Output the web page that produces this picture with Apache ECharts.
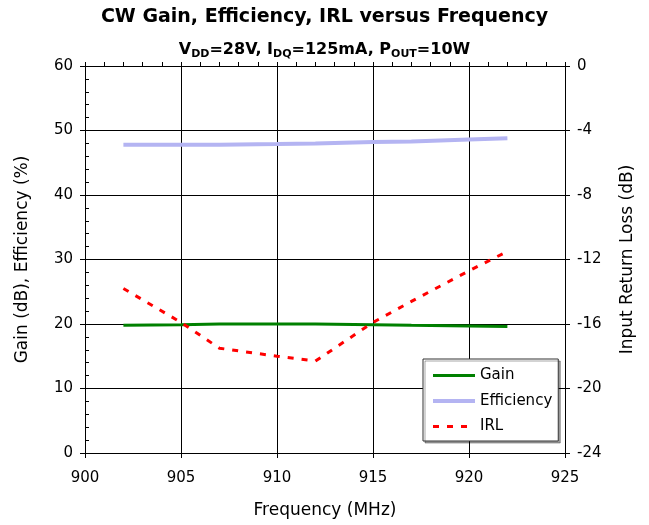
<!DOCTYPE html>
<html lang="en">

<head>
    <meta charset="UTF-8">
    <title>CW Gain, Efficiency, IRL versus Frequency</title>
    <script src="https://cdnjs.cloudflare.com/ajax/libs/echarts/6.0.0/echarts.min.js"></script>
    <style>
        body { margin: 0; background: #fff; }
    </style>
</head>

<body>
    <div id="main" style="width: 649px;height:525px;"></div>

    <script type="text/javascript">
        // data
        const freq = [902, 905, 907, 910, 912, 915, 917, 920, 922];
        const gain = [19.8, 19.9, 20.0, 20.0, 20.0, 19.9, 19.8, 19.7, 19.6];
        const efficiency = [47.8, 47.8, 47.8, 47.9, 48.0, 48.2, 48.3, 48.6, 48.8];
        const irl = [-13.8, -15.9, -17.5, -18.0, -18.3, -15.9, -14.6, -12.7, -11.5];

        const FONT = 'DejaVu Sans';

        function pairs(ys) {
            return freq.map((f, i) => [f, ys[i]]);
        }

        const myChart = echarts.init(document.getElementById('main'));

        var option = {
            animation: false,
            textStyle: { fontFamily: FONT, color: '#000' },
            title: [
                {
                    text: 'CW Gain, Efficiency, IRL versus Frequency',
                    left: 'center',
                    top: 3,
                    textStyle: { fontFamily: FONT, fontSize: 19, fontWeight: 'bold', color: '#000' }
                },
                {
                    text: '{n|V}{s|DD}{n|=28V, I}{s|DQ}{n|=125mA, P}{s|OUT}{n|=10W}',
                    left: 'center',
                    top: 35,
                    textStyle: {
                        rich: {
                            n: { fontFamily: FONT, fontSize: 16, fontWeight: 'bold', color: '#000', lineHeight: 20 },
                            s: { fontFamily: FONT, fontSize: 11, fontWeight: 'bold', color: '#000', lineHeight: 20, padding: [8, 0, 0, 0] }
                        }
                    }
                }
            ],
            grid: { left: 85, right: 84, top: 66, bottom: 72 },
            legend: {
                orient: 'vertical',
                left: 423,
                top: 359,
                padding: [9, 6, 7, 8],
                itemWidth: 42,
                itemHeight: 18,
                itemGap: 10.5,
                backgroundColor: '#fff',
                borderColor: '#333',
                borderWidth: 1,
                shadowColor: 'rgba(0,0,0,0.35)',
                shadowOffsetX: 2,
                shadowOffsetY: 2,
                itemStyle: { opacity: 0 },
                textStyle: { fontFamily: FONT, fontSize: 15, color: '#000' },
                data: [
                    { name: 'Gain', lineStyle: { width: 3 } },
                    { name: 'Efficiency', lineStyle: { width: 4 } },
                    { name: 'IRL', lineStyle: { width: 3 } }
                ]
            },
            xAxis: [
                {
                    type: 'value',
                    min: 900,
                    max: 925,
                    interval: 5,
                    name: 'Frequency (MHz)',
                    nameLocation: 'middle',
                    nameGap: 49,
                    nameTextStyle: { fontFamily: FONT, fontSize: 17, color: '#000' },
                    axisLine: { lineStyle: { color: '#000', width: 1 } },
                    axisTick: { length: 5, lineStyle: { color: '#000' } },
                    axisLabel: { margin: 18, fontFamily: FONT, fontSize: 15, color: '#000' },
                    splitLine: { show: true, lineStyle: { color: '#000', width: 1 } }
                },
                {
                    // inner minor ticks, every 1 MHz
                    type: 'value',
                    min: 900,
                    max: 925,
                    interval: 1,
                    position: 'bottom',
                    axisLine: { show: false },
                    axisTick: { inside: true, length: 4, lineStyle: { color: '#000' } },
                    axisLabel: { show: false },
                    splitLine: { show: false }
                }
            ],
            yAxis: [
                {
                    type: 'value',
                    min: 0,
                    max: 60,
                    interval: 10,
                    position: 'left',
                    name: 'Gain (dB), Efficiency (%)',
                    nameLocation: 'middle',
                    nameGap: 54,
                    nameTextStyle: { fontFamily: FONT, fontSize: 17, color: '#000' },
                    axisLine: { show: true, lineStyle: { color: '#000', width: 1 } },
                    axisTick: { show: true, length: 5, lineStyle: { color: '#000' } },
                    axisLabel: { margin: 12, fontFamily: FONT, fontSize: 15, color: '#000' },
                    splitLine: { show: true, lineStyle: { color: '#000', width: 1 } }
                },
                {
                    type: 'value',
                    min: -24,
                    max: 0,
                    interval: 4,
                    position: 'right',
                    name: 'Input Return Loss (dB)',
                    nameLocation: 'middle',
                    nameGap: 54,
                    nameRotate: 90,
                    nameTextStyle: { fontFamily: FONT, fontSize: 17, color: '#000' },
                    axisLine: { show: true, lineStyle: { color: '#000', width: 1 } },
                    axisTick: { show: true, length: 5, lineStyle: { color: '#000' } },
                    axisLabel: { margin: 12, fontFamily: FONT, fontSize: 15, color: '#000' },
                    splitLine: { show: false }
                },
                {
                    // inner minor ticks on the left axis, every 2
                    type: 'value',
                    min: 0,
                    max: 60,
                    interval: 2,
                    position: 'left',
                    axisLine: { show: false },
                    axisTick: { show: true, inside: true, length: 4, lineStyle: { color: '#000' } },
                    axisLabel: { show: false },
                    splitLine: { show: false }
                }
            ],
            series: [
                {
                    name: 'Gain',
                    type: 'line',
                    yAxisIndex: 0,
                    symbol: 'none',
                    data: pairs(gain),
                    lineStyle: { color: '#008000', width: 3 },
                    itemStyle: { color: '#008000' },
                    z: 3
                },
                {
                    name: 'Efficiency',
                    type: 'line',
                    yAxisIndex: 0,
                    symbol: 'none',
                    data: pairs(efficiency),
                    lineStyle: { color: '#b4b4f2', width: 4 },
                    itemStyle: { color: '#b4b4f2' },
                    z: 2
                },
                {
                    name: 'IRL',
                    type: 'line',
                    yAxisIndex: 1,
                    symbol: 'none',
                    data: pairs(irl),
                    lineStyle: { color: '#ff0000', width: 3, type: [6, 8] },
                    itemStyle: { color: '#ff0000' },
                    z: 4
                }
            ]
        };

        myChart.setOption(option);
    </script>
</body>

</html>
